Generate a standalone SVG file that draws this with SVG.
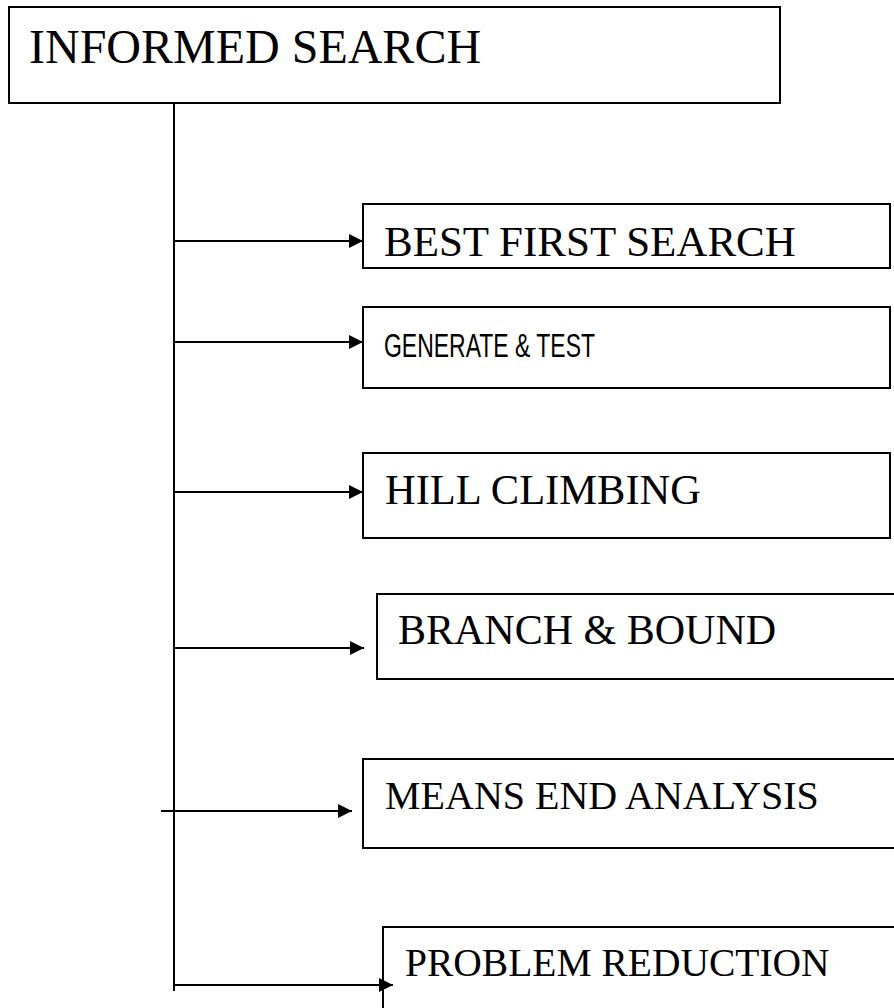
<svg xmlns="http://www.w3.org/2000/svg" width="894" height="1008" viewBox="0 0 894 1008">
<style>
.box{fill:#fff;stroke:#000;stroke-width:2}
.t{font-family:"Liberation Serif","Times New Roman",serif;fill:#000}
.s{font-family:"Liberation Sans",Arial,sans-serif;fill:#000}
.c{stroke:#000;stroke-width:2;fill:none}
</style>
<defs>
<marker id="ah" viewBox="0 0 10 10" refX="10" refY="5" markerWidth="7" markerHeight="7" orient="auto" markerUnits="strokeWidth">
<path d="M0,0 L10,5 L0,10 Z" fill="#000"/>
</marker>
</defs>
<rect width="894" height="1008" fill="#fff"/>
<g id="informed-search">
<rect class="box" x="9" y="7" width="771" height="96"/>
<text class="t" x="29" y="63" font-size="48">INFORMED SEARCH</text>
</g>
<g id="best-first-search">
<rect class="box" x="363" y="204" width="527" height="64"/>
<text class="t" x="384" y="256" font-size="43">BEST FIRST SEARCH</text>
</g>
<g id="generate-test">
<rect class="box" x="363" y="307" width="527" height="81"/>
<text class="s" x="384" y="357" font-size="33" textLength="211" lengthAdjust="spacingAndGlyphs">GENERATE &amp; TEST</text>
</g>
<g id="hill-climbing">
<rect class="box" x="363" y="453" width="527" height="85"/>
<text class="t" x="385" y="504" font-size="42.5">HILL CLIMBING</text>
</g>
<g id="branch-bound">
<rect class="box" x="377" y="594" width="530" height="85"/>
<text class="t" x="398" y="644" font-size="42">BRANCH &amp; BOUND</text>
</g>
<g id="means-end-analysis">
<rect class="box" x="363" y="759" width="544" height="89"/>
<text class="t" x="385" y="809" font-size="40">MEANS END ANALYSIS</text>
</g>
<g id="problem-reduction">
<rect class="box" x="383" y="927" width="524" height="100"/>
<text class="t" x="405" y="976" font-size="39.5">PROBLEM REDUCTION</text>
</g>
<g id="connectors">
<line class="c" x1="174" y1="103" x2="174" y2="991"/>
<line class="c" x1="174" y1="241" x2="363" y2="241" marker-end="url(#ah)"/>
<line class="c" x1="174" y1="342" x2="363" y2="342" marker-end="url(#ah)"/>
<line class="c" x1="174" y1="492" x2="363" y2="492" marker-end="url(#ah)"/>
<line class="c" x1="174" y1="648" x2="364" y2="648" marker-end="url(#ah)"/>
<line class="c" x1="161" y1="811" x2="352" y2="811" marker-end="url(#ah)"/>
<line class="c" x1="174" y1="985" x2="393" y2="985" marker-end="url(#ah)"/>
</g>
</svg>
